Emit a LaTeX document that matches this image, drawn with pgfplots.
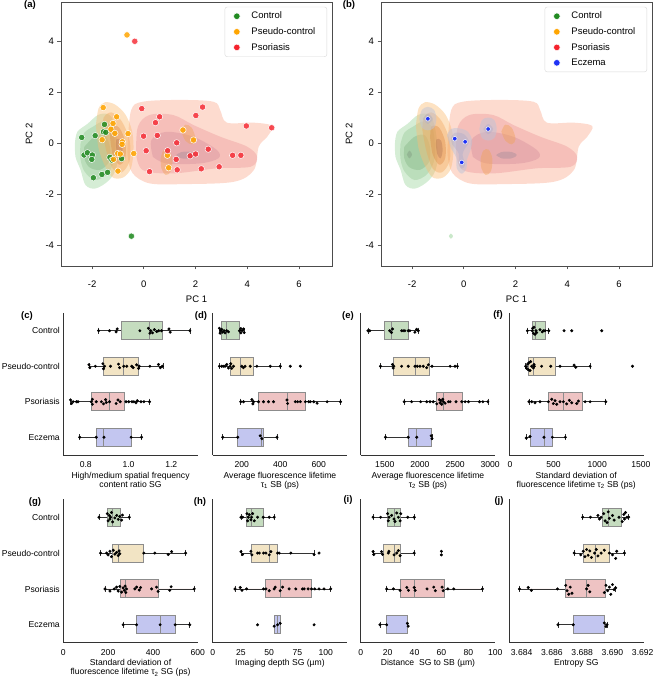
\documentclass[border=0pt]{standalone}
\usepackage{pgfplots}
\pgfplotsset{compat=1.18}
\usepgfplotslibrary{statistics}
\usepackage{fontspec}
\setmainfont{Liberation Sans}
\newcommand{\fa}{\fontsize{9.5}{11}\selectfont}
\newcommand{\fb}{\fontsize{8.6}{9}\selectfont}
\definecolor{cG}{RGB}{34,139,34}
\definecolor{cO}{RGB}{255,165,0}
\definecolor{cR}{RGB}{245,35,45}
\definecolor{cB}{RGB}{30,50,245}
\definecolor{bG}{RGB}{197,220,191}
\definecolor{bO}{RGB}{242,228,196}
\definecolor{bR}{RGB}{238,195,195}
\definecolor{bB}{RGB}{195,198,240}
\definecolor{kR1}{RGB}{250,165,135}
\definecolor{kR2}{RGB}{225,110,120}
\definecolor{kR3}{RGB}{195,115,140}
\definecolor{kR4}{RGB}{150,135,150}
\definecolor{kG1}{RGB}{150,210,150}
\definecolor{kG2}{RGB}{110,175,110}
\definecolor{kG3}{RGB}{95,155,95}
\definecolor{kG4}{RGB}{120,140,120}
\definecolor{kO1}{RGB}{250,190,120}
\definecolor{kO2}{RGB}{240,160,80}
\definecolor{kO3}{RGB}{220,130,60}
\definecolor{kO4}{RGB}{170,110,80}
\definecolor{kB1}{RGB}{190,195,215}
\definecolor{kB2}{RGB}{160,165,205}

\pgfplotsset{
 pc/.style={scale only axis, width=271pt, height=264pt,
   xmin=-3.2, xmax=7.27, ymin=-4.82, ymax=5.53,
   xtick={-2,0,2,4,6}, xticklabels={-2,0,2,4,6},
   ytick={-4,-2,0,2,4}, yticklabels={-4,-2,0,2,4},
   tick pos=left, tick align=outside, major tick length=3.5pt,
   tick style={black!65, line width=0.7pt},
   axis line style={black!70, line width=0.8pt},
   tick label style={font=\fa},
   xticklabel style={yshift=-8pt},
   label style={font=\fa},
   xlabel={PC 1}, ylabel={PC 2},
   xlabel style={at={(axis description cs:0.5,-0.125)}, anchor=center},
   ylabel style={at={(axis description cs:-0.118,0.5)}, anchor=center},
   legend style={at={(rel axis cs:0.982,0.982)}, anchor=north east, draw=black!15,
     rounded corners=2.5pt, font=\fa, inner xsep=8pt, inner ysep=1.5pt,
     nodes={inner sep=3.6pt}},
   legend cell align=left,
   legend image code/.code={\path[draw=none, fill=none] (0pt,0pt) -- (15pt,0pt); \path[##1] plot coordinates {(4pt,0pt)};},
 },
 bp/.style={scale only axis, width=134.5pt,
   axis x line*=bottom, axis y line*=left,
   axis line style={black!80, line width=0.8pt, -},
   ymin=-0.5, ymax=3.5, y dir=reverse,
   ytick={0,1,2,3}, yticklabels={},
   major tick length=0pt,
   tick label style={font=\fb},
   xticklabel style={yshift=-3pt},
   xlabel style={font=\fb, align=center, yshift=2.5pt},
   boxplot/draw direction=x,
   boxplot/box extend=0.5,
   boxplot/whisker extend=0.18,
   boxplot/every whisker/.style={draw=black!80, line width=0.7pt},
   boxplot/every median/.style={draw=black!45, line width=1pt},
   boxplot/every box/.style={draw=black!45, line width=1pt},
 },
 sw/.style={only marks, mark=*, mark size=1.3pt, color=black, mark options={draw=black, fill=black}},
 kd/.style={forget plot, draw=none, smooth, tension=0.55},
 lg/.style={only marks, mark=*, mark size=3.3pt, mark options={fill=#1, draw=white, line width=0.5pt}},
}
\newcommand{\bx}[7]{\addplot[boxplot prepared={draw position=#1, lower whisker=#2, lower quartile=#3, median=#4, upper quartile=#5, upper whisker=#6}, fill=#7, draw=black!45, line width=1pt] coordinates {};}
\newcommand{\kde}{%
 \addplot[kd, fill=kR1, fill opacity=0.4] coordinates {(-0.62,0.0) (-0.49,1.29) (-0.04,1.62) (1.39,1.69) (2.69,1.62) (2.95,1.29) (3.21,0.8) (4.25,0.8) (4.96,0.67) (4.77,0.25) (4.44,-0.14) (4.25,-1.06) (3.47,-1.52) (1.52,-1.61) (0.22,-1.58) (-0.43,-1.19) (-0.62,-0.54) (-0.62,0.0)};
 \addplot[kd, fill=kR2, fill opacity=0.25] coordinates {(-0.3,-0.41) (-0.23,0.64) (0.22,1.1) (1.13,1.1) (1.91,0.71) (2.95,0.25) (3.99,-0.14) (4.38,-0.54) (4.12,-0.93) (2.82,-0.99) (1.13,-1.19) (-0.04,-1.06) (-0.3,-0.41)};
 \addplot[kd, fill=kR3, fill opacity=0.25] coordinates {(0.35,-0.54) (0.29,0.12) (0.87,0.44) (1.91,0.25) (2.82,-0.27) (2.88,-0.6) (2.16,-0.8) (0.87,-0.8) (0.35,-0.54)};
 \addplot[kd, fill=kR4, fill opacity=0.35] coordinates {(1.25,-0.47) (1.45,-0.35) (1.85,-0.35) (2.05,-0.47) (1.85,-0.6) (1.45,-0.6) (1.25,-0.47)};
 \addplot[kd, fill=kG1, fill opacity=0.4] coordinates {(-2.66,0.0) (-2.57,0.44) (-2.18,0.75) (-1.73,1.12) (-1.27,1.05) (-1.05,0.2) (-1.05,-0.9) (-1.34,-1.45) (-1.86,-1.78) (-2.25,-1.65) (-2.44,-1.06) (-2.64,-0.54) (-2.66,0.0)};
 \addplot[kd, fill=kG2, fill opacity=0.25] coordinates {(-2.45,-0.05) (-2.3,0.4) (-1.95,0.65) (-1.55,0.85) (-1.2,0.55) (-1.12,-0.55) (-1.4,-1.2) (-1.9,-1.45) (-2.3,-1.1) (-2.45,-0.6) (-2.45,-0.05)};
 \addplot[kd, fill=kG3, fill opacity=0.25] coordinates {(-2.3,-0.15) (-1.9,0.25) (-1.5,0.3) (-1.3,-0.2) (-1.35,-0.75) (-1.7,-1.05) (-2.1,-0.95) (-2.3,-0.6) (-2.3,-0.15)};
 \addplot[kd, fill=kG4, fill opacity=0.35] coordinates {(-2.2,-0.45) (-2.1,-0.3) (-2.0,-0.45) (-2.1,-0.6) (-2.2,-0.45)};
 \addplot[kd, fill=kG1, fill opacity=0.5] coordinates {(-0.58,-3.65) (-0.5,-3.55) (-0.42,-3.65) (-0.5,-3.75) (-0.58,-3.65)};
 \addplot[kd, fill=kO1, fill opacity=0.45] coordinates {(-1.85,0.7) (-1.75,1.35) (-1.5,1.6) (-1.1,1.5) (-0.7,1.1) (-0.45,0.45) (-0.4,-0.3) (-0.5,-1.0) (-0.8,-1.35) (-1.2,-1.35) (-1.5,-0.9) (-1.75,-0.2) (-1.85,0.7)};
 \addplot[kd, fill=kO2, fill opacity=0.35] coordinates {(-1.6,0.5) (-1.55,1.0) (-1.25,1.2) (-0.85,0.85) (-0.55,0.1) (-0.55,-0.7) (-0.85,-1.15) (-1.2,-1.0) (-1.45,-0.3) (-1.6,0.5)};
 \addplot[kd, fill=kO3, fill opacity=0.35] coordinates {(-1.3,0.2) (-1.25,0.65) (-0.95,0.6) (-0.72,0.05) (-0.72,-0.6) (-0.95,-0.85) (-1.2,-0.45) (-1.3,0.2)};
 \addplot[kd, fill=kO4, fill opacity=0.35] coordinates {(-1.08,-0.1) (-1.05,0.15) (-0.88,0.1) (-0.82,-0.3) (-0.9,-0.6) (-1.02,-0.45) (-1.08,-0.1)};
 \addplot[kd, fill=kO2, fill opacity=0.4] coordinates {(1.45,0.45) (1.6,0.72) (1.85,0.6) (2.0,0.15) (1.85,-0.05) (1.6,0.1) (1.45,0.45)};
 \addplot[kd, fill=kO2, fill opacity=0.4] coordinates {(0.65,-0.6) (0.75,-0.3) (0.95,-0.25) (1.1,-0.6) (1.05,-1.1) (0.85,-1.25) (0.68,-1.0) (0.65,-0.6)};
}
\begin{document}
\begin{tikzpicture}[x=1pt,y=1pt]
\useasboundingbox (0,0) rectangle (654,677);
% ---------- (a)
\begin{axis}[pc, at={(61pt,411pt)}, anchor=south west]
\kde
\addplot[forget plot, only marks, mark=*, mark size=3.2pt, mark options={fill=cG, draw=white, line width=0.5pt, fill opacity=0.85}] coordinates {(-2.40,0.22) (-2.31,-0.47) (-2.18,-0.38) (-1.99,-0.47) (-2.01,-0.64) (-1.88,0.29) (-1.95,-1.36) (-1.56,0.44) (-1.52,0.73) (-1.47,0.42) (-1.62,-1.23) (-1.40,-1.15) (-1.31,-0.56) (-1.23,-0.67) (-0.86,-0.61) (-0.48,-3.65)};
\addplot[forget plot, only marks, mark=*, mark size=3.2pt, mark options={fill=cO, draw=white, line width=0.5pt, fill opacity=0.85}] coordinates {(-1.57,1.39) (-1.61,0.13) (-1.27,0.54) (-1.19,0.77) (-1.12,0.38) (-1.05,1.03) (-1.17,-0.64) (-1.01,-0.41) (-0.91,-0.43) (-0.83,0.05) (-0.84,-0.05) (-0.61,0.37) (-0.39,-0.41) (-1.00,-1.10) (-0.65,4.24) (1.51,0.51) (1.92,0.12) (0.91,-0.48) (0.96,-0.97)};
\addplot[forget plot, only marks, mark=*, mark size=3.2pt, mark options={fill=cR, draw=white, line width=0.5pt, fill opacity=0.8}] coordinates {(-0.35,3.99) (-0.08,1.35) (0.61,1.03) (0.45,0.80) (-0.01,0.27) (0.52,0.30) (0.09,-0.30) (0.22,-1.12) (0.92,-0.30) (1.25,-0.64) (1.27,0.01) (1.29,-1.05) (1.79,-0.50) (2.00,-0.43) (2.01,1.08) (2.27,1.41) (2.49,-0.24) (2.22,-1.01) (2.91,-0.93) (3.43,-0.48) (3.75,-0.48) (3.96,0.67) (4.94,0.60)};
\addlegendimage{lg=cG}
\addlegendentry{Control}
\addlegendimage{lg=cO}
\addlegendentry{Pseudo-control}
\addlegendimage{lg=cR}
\addlegendentry{Psoriasis}
\end{axis}
% ---------- (b)
\begin{axis}[pc, at={(381pt,411pt)}, anchor=south west]
\kde
\addplot[kd, fill=kB1, fill opacity=0.5] coordinates {(-1.72,0.95) (-1.62,1.3) (-1.39,1.42) (-1.15,1.3) (-1.06,0.95) (-1.15,0.6) (-1.39,0.5) (-1.62,0.6) (-1.72,0.95)};
\addplot[kd, fill=kB1, fill opacity=0.5] coordinates {(-0.65,0.3) (-0.5,0.55) (-0.2,0.58) (0.15,0.45) (0.32,0.1) (0.25,-0.3) (0.12,-0.65) (0.1,-1.0) (-0.08,-1.2) (-0.27,-1.0) (-0.3,-0.55) (-0.5,-0.2) (-0.65,0.3)};
\addplot[kd, fill=kB1, fill opacity=0.5] coordinates {(0.6,0.55) (0.7,0.9) (0.94,1.0) (1.18,0.9) (1.27,0.55) (1.18,0.2) (0.94,0.1) (0.7,0.2) (0.6,0.55)};
\addplot[kd, fill=kB2, fill opacity=0.3] coordinates {(-1.58,0.95) (-1.39,1.15) (-1.2,0.95) (-1.39,0.75) (-1.58,0.95)};
\addplot[kd, fill=kB2, fill opacity=0.3] coordinates {(-0.5,0.2) (-0.35,0.4) (0,0.35) (0.2,0.05) (0.05,-0.2) (-0.05,-0.45) (0.05,-0.85) (-0.08,-1.0) (-0.2,-0.8) (-0.2,-0.4) (-0.45,-0.05) (-0.5,0.2)};
\addplot[kd, fill=kB2, fill opacity=0.3] coordinates {(0.75,0.55) (0.94,0.75) (1.13,0.55) (0.94,0.35) (0.75,0.55)};
\addplot[forget plot, only marks, mark=*, mark size=2.3pt, mark options={fill=cB, draw=white, line width=0.5pt}] coordinates {(-1.39,0.95) (-0.35,0.17) (0.05,0.05) (-0.08,-0.76) (0.94,0.55)};
\addlegendimage{lg=cG}
\addlegendentry{Control}
\addlegendimage{lg=cO}
\addlegendentry{Pseudo-control}
\addlegendimage{lg=cR}
\addlegendentry{Psoriasis}
\addlegendimage{lg=cB}
\addlegendentry{Eczema}
\end{axis}
% ---------- (c)
\begin{axis}[bp, height=142pt, at={(63.3pt,222pt)}, anchor=south west,
  xmin=0.695, xmax=1.324, xtick={0.8,1.0,1.2}, xticklabels={0.8,1.0,1.2},
  yticklabels={Control,Pseudo-control,Psoriasis,Eczema}, yticklabel style={font=\fb},
  xlabel={High/medium spatial frequency\\content ratio SG}]
\bx{0}{0.860}{0.967}{1.100}{1.157}{1.287}{bG}
\bx{1}{0.815}{0.885}{0.978}{1.049}{1.161}{bO}
\bx{2}{0.729}{0.826}{0.911}{0.979}{1.098}{bR}
\bx{3}{0.772}{0.849}{0.885}{1.012}{1.061}{bB}
\addplot[sw] coordinates {(0.860,0) (0.911,0) (0.942,0.03) (0.947,-0.05) (1.053,0) (1.093,-0.07) (1.100,0.07) (1.104,0) (1.112,0.06) (1.121,-0.03) (1.132,0.02) (1.141,0) (1.154,0) (1.189,-0.05) (1.195,0.04) (1.287,0)
(0.815,0.96) (0.819,1.04) (0.845,1) (0.880,0.93) (0.883,1.07) (0.888,1) (0.916,1) (0.953,0.94) (0.958,1.04) (0.978,1) (0.992,1) (1.015,1) (1.022,1.04) (1.038,0.96) (1.047,1.06) (1.050,1) (1.100,1) (1.140,0.95) (1.149,1.04) (1.158,1)
(0.729,1.95) (0.734,2.05) (0.741,2) (0.757,2) (0.764,2) (0.826,2) (0.831,1.93) (0.831,2.07) (0.849,2) (0.873,2) (0.883,2.06) (0.893,1.94) (0.896,2.02) (0.911,2) (0.942,2.05) (0.951,1.95) (0.961,2) (0.988,2) (1.001,2) (1.016,2) (1.025,2) (1.035,2.03) (1.041,1.97) (1.058,2) (1.072,2) (1.098,2)
(0.772,3) (0.849,3) (0.885,3) (1.012,3) (1.061,3)};
\end{axis}
% ---------- (d)
\begin{axis}[bp, height=142pt, at={(212.7pt,222pt)}, anchor=south west,
  xmin=48.7, xmax=748, xtick={200,400,600}, xticklabels={200,400,600},
  xlabel={Average fluorescence lifetime\\τ\textsubscript{1} SB (ps)}]
\bx{0}{83.5}{95.7}{121.7}{187.8}{212.2}{bG}
\bx{1}{83.5}{139.1}{191}{261}{400}{bO}
\bx{2}{194.8}{287}{438.3}{530.4}{713}{bR}
\bx{3}{100.9}{179.1}{301}{313}{382.6}{bB}
\addplot[sw] coordinates {(83.5,-0.07) (87,0.07) (90.4,0) (95.7,-0.04) (100.9,0.04) (107.8,0) (113,0.06) (121.7,0) (130.4,0.03) (187.8,0) (194.8,-0.06) (194.8,0.06) (201.7,0) (208.7,-0.05) (212.2,0.05)
(83.5,1) (95.7,1) (104.3,1) (113,1) (121.7,0.95) (130.4,1.05) (139.1,1) (142.6,0.93) (147.8,1.06) (156.5,1) (200,1) (208.7,1.04) (217.4,1) (243.5,1) (278.3,1) (347.8,1) (400,1) (452.2,1) (504.3,1)
(194.8,2) (208.7,2) (252.2,1.94) (257.4,2.06) (260.9,2) (287,2) (313,2) (339.1,2) (365.2,2) (434.8,1.95) (438.3,2.05) (478.3,2) (490.4,2) (504.3,2) (530.4,2) (547.8,2) (556.5,2) (573.9,2) (591.3,2.04) (643.5,2) (713,2)
(100.9,3) (179.1,3) (295.7,2.96) (304.3,3.04) (382.6,3)};
\end{axis}
% ---------- (e)
\begin{axis}[bp, height=142pt, at={(360.7pt,222pt)}, anchor=south west,
  xmin=1157, xmax=3071, xtick={1500,2000,2500,3000}, xticklabels={1500,2000,2500,3000},
  xlabel={Average fluorescence lifetime\\τ\textsubscript{2} SB (ps)}]
\bx{0}{1261}{1500}{1596}{1843}{1976}{bG}
\bx{1}{1439}{1619}{1939}{2133}{2533}{bO}
\bx{2}{1776}{2229}{2333}{2610}{2967}{bR}
\bx{3}{1510}{1833}{1955}{2167}{2171}{bB}
\addplot[sw] coordinates {(1261,0) (1286,0) (1571,0) (1596,0.05) (1610,-0.05) (1739,0) (1761,0) (1786,0) (1833,0) (1857,0) (1929,0.04) (1953,-0.04) (1976,0)
(1439,1) (1610,0.95) (1619,1.05) (1629,1) (1739,1) (1833,1) (1929,1) (1961,1) (2000,1) (2047,1) (2096,1.04) (2119,0.96) (2171,1) (2429,1) (2500,1) (2533,1)
(1776,2) (1881,2) (2010,2) (2096,2) (2143,2) (2190,2) (2239,2.06) (2276,1.94) (2286,2.03) (2296,1.97) (2310,2.07) (2324,1.93) (2333,2) (2357,2.04) (2404,2) (2429,2) (2514,2) (2596,2) (2643,2) (2690,2) (2847,2) (2896,2) (2967,2)
(1510,3) (1833,3) (1955,3) (2160,2.96) (2171,3.04)};
\end{axis}
% ---------- (f)
\begin{axis}[bp, height=142pt, at={(509pt,222pt)}, anchor=south west,
  xmin=-11, xmax=1530, xtick={0,500,1000,1500}, xticklabels={0,500,1000,1500},
  xlabel={Standard deviation of\\fluorescence lifetime τ\textsubscript{2} SB (ps)}]
\bx{0}{199}{256}{298}{409}{444}{bG}
\bx{1}{180}{218}{275}{520}{918}{bO}
\bx{2}{218}{440}{612}{830}{1098}{bR}
\bx{3}{187}{230}{390}{486}{635}{bB}
\addplot[sw] coordinates {(199,0) (256,0) (260,-0.07) (268,0.07) (275,-0.1) (287,0.1) (298,0) (306,0.05) (344,-0.03) (371,0.03) (383,0) (402,0) (444,0) (620,0) (708,0) (1052,0)
(180,1) (191,1.06) (203,0.94) (210,1.1) (218,0.9) (230,1.12) (237,0.87) (249,1) (268,1.05) (275,0.95) (279,1) (363,1) (467,1) (574,1) (735,0.97) (754,1.03) (918,1) (1404,1)
(218,2) (249,2) (287,2.03) (344,2) (440,2) (478,1.93) (497,2.05) (517,1.97) (536,2.07) (574,2) (612,2) (650,2.06) (681,1.96) (708,2.03) (765,2.05) (784,1.98) (861,2) (918,2) (1098,2)
(187,3.02) (230,2.98) (390,3) (486,3) (635,3)};
\end{axis}
% ---------- (g)
\begin{axis}[bp, height=143.4pt, at={(63.3pt,34.3pt)}, anchor=south west,
  xmin=0, xmax=600, xtick={0,200,400,600}, xticklabels={0,200,400,600},
  yticklabels={Control,Pseudo-control,Psoriasis,Eczema}, yticklabel style={font=\fb},
  xlabel={Standard deviation of\\fluorescence lifetime τ\textsubscript{2} SG (ps)}]
\bx{0}{159}{196}{220}{255}{294}{bG}
\bx{1}{166}{220}{248}{359}{546}{bO}
\bx{2}{186}{257}{276}{426}{584}{bR}
\bx{3}{267}{327}{432}{499}{564}{bB}
\addplot[sw] coordinates {(159,0) (196,-0.1) (200,0.1) (205,-0.05) (208,0.05) (211,0) (215,-0.13) (220,0.13) (230,0.02) (238,-0.05) (245,0.06) (252,-0.02) (260,0.08) (264,-0.06) (294,0)
(166,1) (193,1) (200,1.05) (208,0.95) (215,1.1) (223,0.92) (230,1.03) (238,0.98) (245,1.07) (249,0.94) (252,1.02) (359,1) (408,1) (468,1.04) (483,0.96) (546,1)
(186,2) (208,2.06) (227,2) (238,1.95) (245,2.06) (252,1.93) (260,2.09) (267,1.97) (272,2.04) (276,1.92) (279,2.1) (282,2) (319,2) (327,1.95) (339,2.03) (345,1.96) (394,2) (416,1.95) (423,2.07) (475,2.04) (481,1.94) (584,2)
(267,3) (327,3) (432,3) (499,3) (564,3)};
\end{axis}
% ---------- (h)
\begin{axis}[bp, height=143.4pt, at={(212.7pt,34.3pt)}, anchor=south west,
  xmin=0, xmax=119, xtick={0,25,50,75,100}, xticklabels={0,25,50,75,100},
  xlabel={Imaging depth SG (µm)}]
\bx{0}{25}{30}{34.4}{44.7}{54.4}{bG}
\bx{1}{25}{34.7}{50}{57.4}{89.7}{bO}
\bx{2}{19.7}{47}{59.7}{87.4}{104.4}{bR}
\bx{3}{54.4}{54.4}{57.4}{59.7}{59.7}{bB}
\addplot[sw] coordinates {(25,0) (26.5,0) (30.3,-0.1) (30.9,0.1) (31.5,0) (32.4,-0.07) (33.8,0.07) (34.4,0) (35.3,-0.1) (36.8,0.1) (39.7,0) (44.7,0) (50,0) (54.4,0)
(25,0.96) (26.5,1.04) (33.8,0.95) (34.7,1.05) (39.7,1) (41.2,1) (45,1) (47.1,1) (50,1.05) (51.5,0.96) (57.4,1) (58.8,1) (69.1,1) (89.7,1.04) (94.1,1)
(19.7,2) (24.4,1.96) (25.9,2.04) (30,2) (45,2) (47.1,2) (50,2.05) (54.4,2) (55.3,1.95) (59.7,2.05) (61.8,1.95) (67.6,2) (73.5,2) (79.4,2) (80.9,2) (84.4,2) (87.4,2) (90.3,2) (94.1,2) (98.5,2) (104.4,2)
(39.7,3) (54.4,3.04) (57.4,3) (59.7,2.96) (89.7,3)};
\end{axis}
% ---------- (i)
\begin{axis}[bp, height=143.4pt, at={(360.7pt,34.3pt)}, anchor=south west,
  xmin=0, xmax=100, xtick={0,20,40,60,80,100}, xticklabels={0,20,40,60,80,100},
  xlabel={Distance~ SG to SB (µm)}]
\bx{0}{9.2}{20}{24.8}{29.8}{39.8}{bG}
\bx{1}{9.2}{16.7}{24.8}{29.8}{39.8}{bO}
\bx{2}{19.3}{29.8}{39.8}{62.5}{90.5}{bR}
\bx{3}{14.3}{19.3}{34.7}{35}{35}{bB}
\addplot[sw] coordinates {(9.2,0) (14.8,0) (20.0,-0.1) (20.5,0.1) (21,0) (23,-0.05) (24.8,0.05) (25.5,0.12) (26.8,-0.12) (28,0) (29.3,0.1) (29.8,-0.1) (35,0) (39.8,0)
(9.2,0.96) (9.7,1.04) (15.5,0.96) (16.3,1.04) (20.5,1) (21,0.95) (24.8,1.05) (26.8,1) (28,0.93) (29.3,1.07) (39.8,1) (60,0.95) (60,1.05)
(19.3,2) (24.3,2) (29.3,2.04) (34.3,1.96) (35.5,2.04) (39.8,1.96) (40.5,2.04) (49.3,2) (54.3,1.95) (55.5,2.05) (60.5,1.95) (61.3,2.05) (64.8,2) (69.2,2) (90.5,2)
(14.3,3) (19.3,3) (34.7,2.96) (35.3,3.04)};
\end{axis}
% ---------- (j)
\begin{axis}[bp, height=143.4pt, at={(509pt,34.3pt)}, anchor=south west,
  xmin=3.68316, xmax=3.69205, xtick={3.684,3.686,3.688,3.690,3.692},
  xticklabels={3.684,3.686,3.688,3.690,3.692}, scaled x ticks=false,
  xlabel={Entropy SG}]
\bx{0}{3.68803}{3.68931}{3.68974}{3.69062}{3.69107}{bG}
\bx{1}{3.68747}{3.68809}{3.68889}{3.68983}{3.69079}{bO}
\bx{2}{3.68385}{3.68691}{3.68829}{3.68957}{3.69021}{bR}
\bx{3}{3.68640}{3.68741}{3.68946}{3.68950}{3.68964}{bB}
\addplot[sw] coordinates {(3.68803,0) (3.68854,0) (3.68904,-0.05) (3.68914,0.05) (3.68925,0) (3.68942,-0.1) (3.68951,0.1) (3.68964,0.15) (3.68972,-0.15) (3.68979,0.03) (3.69000,-0.05) (3.69011,0.08) (3.69043,0) (3.69064,0.12) (3.69075,-0.08) (3.69079,0.05) (3.69086,-0.13) (3.69096,0) (3.69107,0)
(3.68747,1) (3.68790,1.05) (3.68807,0.95) (3.68818,1.1) (3.68829,0.9) (3.68839,1.06) (3.68850,0.94) (3.68861,1.12) (3.68882,1) (3.68893,0.9) (3.68904,1.08) (3.68925,1) (3.68946,0.92) (3.68979,1) (3.69000,1.05) (3.69021,1.15) (3.69028,0.95) (3.69079,1)
(3.68385,2) (3.68443,1.96) (3.68464,2.04) (3.68636,2) (3.68691,1.9) (3.68700,2.05) (3.68711,2.15) (3.68721,1.95) (3.68732,2.12) (3.68829,2) (3.68839,1.9) (3.68850,2.08) (3.68946,2.1) (3.68957,1.9) (3.68968,2.05) (3.68979,1.95) (3.68989,2.15) (3.69000,1.88) (3.69011,2.02) (3.69021,1.97)
(3.68640,3) (3.68741,3) (3.68946,2.95) (3.68957,3.05) (3.68964,3)};
\end{axis}
% ---------- panel letters
\begin{scope}[every node/.style={font=\bfseries\fontsize{9.5}{10}\selectfont}]
\node at (30,671.5) {(a)};
\node at (349,671.5) {(b)};
\node at (27,361) {(c)};
\node at (201,361) {(d)};
\node at (348,361) {(e)};
\node at (498,362) {(f)};
\node at (35,175) {(g)};
\node at (200,175) {(h)};
\node at (348,177) {(i)};
\node at (499,176) {(j)};
\end{scope}
\end{tikzpicture}
\end{document}
